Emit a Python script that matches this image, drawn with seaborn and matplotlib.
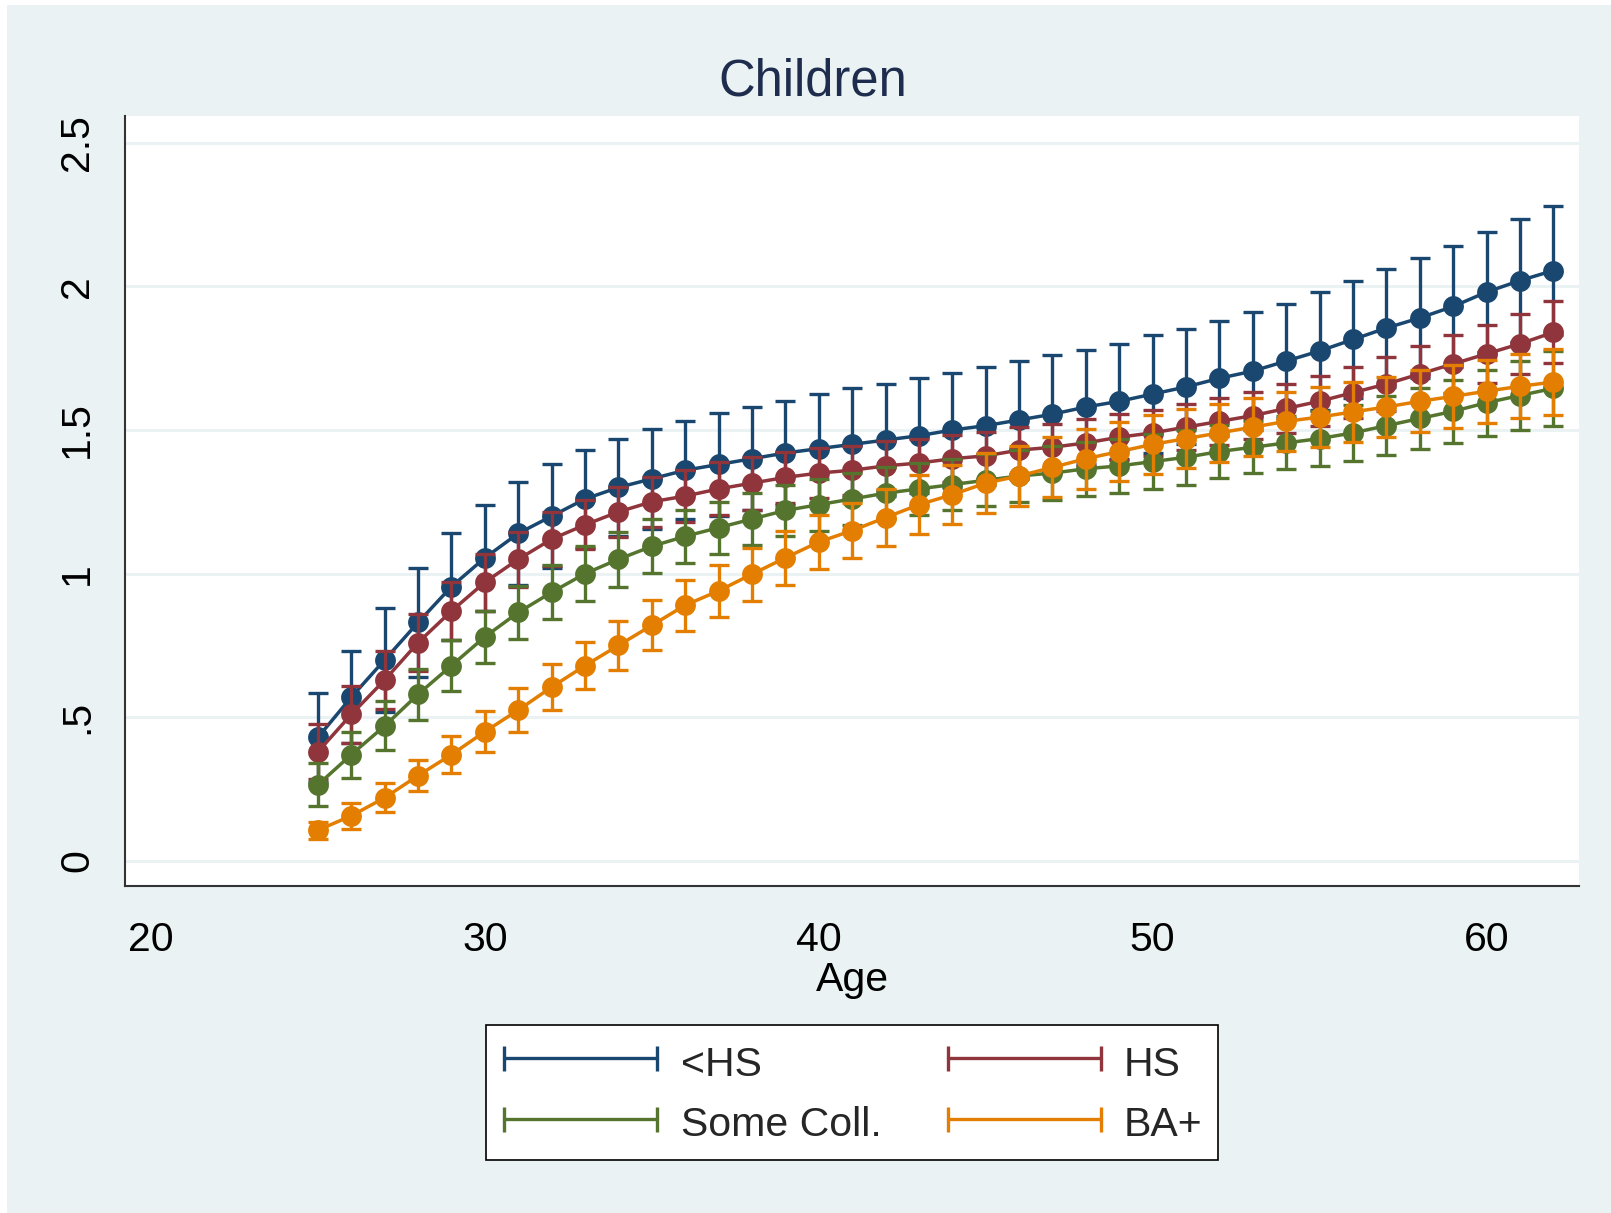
import numpy as np
import pandas as pd
import matplotlib
matplotlib.use("Agg")
import matplotlib.pyplot as plt
from matplotlib.lines import Line2D
from matplotlib.patches import Rectangle
from matplotlib.legend_handler import HandlerLine2D
import seaborn as sns

# ---------------- data ----------------
ages = list(range(25, 63))
groups = ["<HS", "HS", "Some Coll.", "BA+"]

lths_mean = [0.43, 0.57, 0.70, 0.83, 0.955, 1.055, 1.14, 1.20, 1.26, 1.30, 1.33, 1.36, 1.38,
             1.40, 1.42, 1.435, 1.45, 1.465, 1.48, 1.50, 1.515, 1.535, 1.555, 1.58, 1.60,
             1.625, 1.65, 1.68, 1.705, 1.74, 1.775, 1.815, 1.855, 1.89, 1.93, 1.98, 2.02, 2.055]
lths_ci = [0.155, 0.16, 0.18, 0.19, 0.185, 0.185, 0.18, 0.18, 0.17, 0.17, 0.175, 0.17, 0.18,
           0.18, 0.18, 0.19, 0.195, 0.195, 0.20, 0.20, 0.205, 0.205, 0.205, 0.20, 0.20,
           0.205, 0.20, 0.20, 0.205, 0.20, 0.205, 0.205, 0.205, 0.21, 0.21, 0.21, 0.215, 0.225]

hs_mean = [0.38, 0.51, 0.63, 0.76, 0.87, 0.97, 1.05, 1.12, 1.17, 1.215, 1.25, 1.27, 1.295,
           1.315, 1.335, 1.35, 1.36, 1.375, 1.385, 1.40, 1.41, 1.43, 1.44, 1.455, 1.475,
           1.49, 1.51, 1.53, 1.55, 1.575, 1.60, 1.63, 1.66, 1.695, 1.73, 1.765, 1.80, 1.84]
hs_ci = [0.095, 0.10, 0.10, 0.10, 0.10, 0.10, 0.095, 0.093, 0.085, 0.086, 0.088, 0.09, 0.092,
         0.092, 0.09, 0.088, 0.085, 0.085, 0.083, 0.082, 0.082, 0.082, 0.082, 0.082, 0.08,
         0.08, 0.08, 0.082, 0.083, 0.085, 0.087, 0.09, 0.093, 0.096, 0.10, 0.102, 0.105, 0.108]

sc_mean = [0.265, 0.37, 0.47, 0.58, 0.68, 0.78, 0.865, 0.935, 1.00, 1.05, 1.095, 1.13, 1.16,
           1.19, 1.22, 1.24, 1.26, 1.28, 1.295, 1.31, 1.325, 1.34, 1.35, 1.365, 1.375,
           1.39, 1.405, 1.425, 1.44, 1.455, 1.47, 1.49, 1.515, 1.54, 1.565, 1.595, 1.62, 1.645]
sc_ci = [0.075, 0.08, 0.085, 0.088, 0.09, 0.09, 0.092, 0.094, 0.095, 0.095, 0.094, 0.093, 0.09,
         0.09, 0.09, 0.09, 0.09, 0.09, 0.09, 0.09, 0.09, 0.092, 0.093, 0.094, 0.095,
         0.096, 0.095, 0.093, 0.09, 0.092, 0.095, 0.098, 0.102, 0.106, 0.11, 0.115, 0.12, 0.13]

ba_mean = [0.107, 0.157, 0.22, 0.297, 0.37, 0.45, 0.525, 0.605, 0.68, 0.75, 0.82, 0.89, 0.94,
           0.998, 1.055, 1.11, 1.15, 1.195, 1.24, 1.275, 1.315, 1.34, 1.37, 1.40, 1.425,
           1.45, 1.47, 1.49, 1.51, 1.53, 1.545, 1.563, 1.58, 1.60, 1.617, 1.635, 1.652, 1.667]
ba_ci = [0.03, 0.045, 0.05, 0.055, 0.065, 0.072, 0.078, 0.08, 0.083, 0.085, 0.087, 0.088, 0.09,
         0.092, 0.094, 0.095, 0.097, 0.10, 0.102, 0.104, 0.105, 0.106, 0.105, 0.105, 0.104,
         0.103, 0.102, 0.102, 0.102, 0.103, 0.104, 0.105, 0.106, 0.108, 0.109, 0.11, 0.112, 0.115]

x_ticks = [20, 30, 40, 50, 60]
y_ticks = [0, 0.5, 1, 1.5, 2, 2.5]
y_tick_labels = ["0", ".5", "1", "1.5", "2", "2.5"]

colors = {"<HS": "#1A476F", "HS": "#90353B", "Some Coll.": "#55752F", "BA+": "#E37E00"}

frames = []
for g, m, c in zip(groups, [lths_mean, hs_mean, sc_mean, ba_mean],
                   [lths_ci, hs_ci, sc_ci, ba_ci]):
    frames.append(pd.DataFrame({"Age": ages, "Children": m, "ci": c, "group": g}))
df = pd.concat(frames, ignore_index=True)

# ---------------- style ----------------
sns.set_style("white")
plt.rcParams["font.family"] = ["Liberation Sans", "DejaVu Sans"]

BG = "#EAF2F3"
W, H = 1611, 1213
fig = plt.figure(figsize=(W / 100, H / 100), dpi=100, facecolor="white")
fig.patches.append(Rectangle((7 / W, 0), 1 - 7 / W, (H - 5) / H,
                             transform=fig.transFigure, facecolor=BG,
                             edgecolor="none", zorder=-10))

ax = fig.add_axes([125.3 / W, 1 - 885.6 / H, (1579 - 125.3) / W, (885.6 - 116) / H])
ax.set_facecolor("white")

for i, g in enumerate(groups):
    sub = df[df["group"] == g]
    ax.errorbar(sub["Age"], sub["Children"], yerr=sub["ci"], fmt="none",
                ecolor=colors[g], elinewidth=2.4, capsize=7, capthick=2.4,
                zorder=3 + 2 * i)
    sns.lineplot(data=sub, x="Age", y="Children", color=colors[g], marker="o",
                 markersize=15, markeredgewidth=0, linewidth=2.5, errorbar=None,
                 ax=ax, zorder=4 + 2 * i, legend=False)

ax.set_xlim(19.23, 62.77)
ax.set_ylim(-0.086, 2.593)
ax.set_xticks(x_ticks)
ax.set_xticklabels([str(t) for t in x_ticks])
ax.set_yticks(y_ticks)
ax.set_yticklabels(y_tick_labels, rotation=90, va="center")

ax.yaxis.grid(True, color=BG, linewidth=2.2)
ax.xaxis.grid(False)
ax.set_axisbelow(True)

for s in ["top", "right"]:
    ax.spines[s].set_visible(False)
for s in ["left", "bottom"]:
    ax.spines[s].set_color("#333333")
    ax.spines[s].set_linewidth(1.5)

ax.tick_params(axis="both", which="major", direction="out", length=11, width=1.3,
               color="#333333", labelsize=29.5, labelcolor="black")
ax.tick_params(axis="x", pad=14.5)
ax.tick_params(axis="y", pad=10)

ax.set_ylabel("")
ax.set_xlabel("Age", fontsize=29.5, color="black")
ax.xaxis.set_label_coords(0.5, (885.6 - 980) / 769.6)
ax.xaxis.label.set_va("center")

fig.text(813 / W, 1 - 82 / H, "Children", ha="center", va="center",
         fontsize=36.5, color="#1E2C4E")

handles = {g: Line2D([0, 1], [0, 0], color=colors[g], lw=2.4, marker="|",
                     markersize=18, markeredgewidth=2.4) for g in groups}
order = ["<HS", "Some Coll.", "HS", "BA+"]
leg = fig.legend([handles[g] for g in order], order, loc="center",
                 bbox_to_anchor=(852 / W, (H - 1092.6) / H), ncol=2, numpoints=2,
                 fontsize=29.5, frameon=True, fancybox=False, facecolor="white",
                 edgecolor="black", framealpha=1, handlelength=3.87,
                 handleheight=1.22, handletextpad=0.5, columnspacing=1.55,
                 labelspacing=0.42, borderpad=0.39,
                 handler_map={Line2D: HandlerLine2D(marker_pad=0.07)})
leg.get_frame().set_linewidth(1.2)

fig.savefig("out.png", dpi=100, facecolor=fig.get_facecolor())
